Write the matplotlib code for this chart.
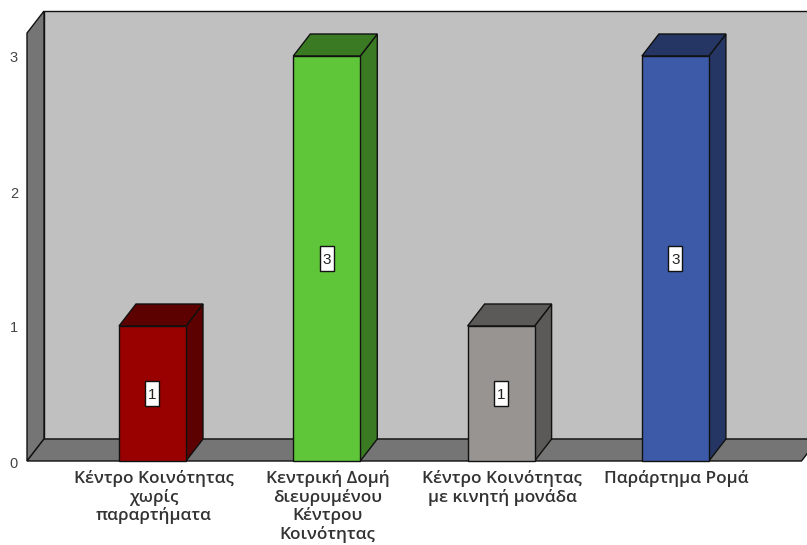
"""
3D style column chart of community centre types
"""
import matplotlib
matplotlib.use("Agg")
import matplotlib.pyplot as plt
from matplotlib.patches import Polygon, Rectangle

# ------------------------------------------------------------------
# Data
# ------------------------------------------------------------------
CATEGORIES = [
    "Κέντρο Κοινότητας\nχωρίς\nπαραρτήματα",
    "Κεντρική Δομή\nδιευρυμένου\nΚέντρου\nΚοινότητας",
    "Κέντρο Κοινότητας\nμε κινητή μονάδα",
    "Παράρτημα Ρομά",
]
VALUES = [1, 3, 1, 3]
Y_TICKS = [0, 1, 2, 3]

FRONT_COLORS = ["#990000", "#5fc639", "#979492", "#3d5aa8"]
TOP_COLORS = ["#5c0000", "#3a7a22", "#5b5a58", "#253665"]

# ------------------------------------------------------------------
# Scale: the axes fill the figure, one unit is 135 px and one category 174.3 px
# ------------------------------------------------------------------
W, H = 807, 545
PX_X = 174.3
PX_Y = 135.0
DX = 17 / PX_X   # depth of the 3D effect
DY = 22 / PX_Y
BAR_W = 67 / PX_X
Y_TOP = 3.17
LEFT = -125.5 / PX_X
RIGHT = 649 / PX_X
EDGE = "#111111"

fig = plt.figure(figsize=(W / 100, H / 100), dpi=100)
ax = fig.add_axes([0, 0, 1, 1])
ax.set_xlim(-152.5 / PX_X, (W - 152.5) / PX_X)
ax.set_ylim(-(H - 461) / PX_Y, 461 / PX_Y)
ax.axis("off")


def poly(points, color, z=1, lw=1.0):
    ax.add_patch(Polygon(points, closed=True, facecolor=color, edgecolor=EDGE,
                         linewidth=lw, joinstyle="miter", zorder=z))


# Walls and floor
poly([(LEFT + DX, DY), (RIGHT + DX * 2, DY), (RIGHT + DX * 2, Y_TOP + DY), (LEFT + DX, Y_TOP + DY)], "#c0c0c0")
poly([(LEFT, 0), (LEFT + DX, DY), (LEFT + DX, Y_TOP + DY), (LEFT, Y_TOP)], "#757575")
poly([(LEFT, 0), (RIGHT, 0), (RIGHT + DX, DY), (LEFT + DX, DY)], "#757575")

# Bars
for i, (value, front, top) in enumerate(zip(VALUES, FRONT_COLORS, TOP_COLORS)):
    x0 = i - BAR_W / 2
    x1 = i + BAR_W / 2
    poly([(x1, 0), (x1 + DX, DY), (x1 + DX, value + DY), (x1, value)], top, 3)
    poly([(x0, value), (x1, value), (x1 + DX, value + DY), (x0 + DX, value + DY)], top, 3)
    poly([(x0, 0), (x1, 0), (x1, value), (x0, value)], front, 4)
    # value label box is taller than wide
    ax.add_patch(Rectangle((i - 7 / PX_X, value / 2 - 12.5 / PX_Y), 14 / PX_X, 25 / PX_Y,
                           facecolor="white", edgecolor="#111111", linewidth=1, zorder=5))
    ax.text(i, value / 2, str(value), ha="center", va="center_baseline", fontsize=11,
            family="Liberation Sans", color="#222222", zorder=6)

# Y tick labels
for tick in Y_TICKS:
    ax.text(LEFT - 13 / PX_X, tick - 1 / PX_Y, str(tick), ha="center", va="center_baseline", fontsize=10.5,
            family="Liberation Sans", color="#444444")

# Category labels
for i, label in enumerate(CATEGORIES):
    ax.text(i + 1 / PX_X, -9 / PX_Y, label, ha="center", va="top", fontsize=12.4,
            family="Open Sans", fontweight="semibold", color="#333333", linespacing=1.12)

fig.savefig("out.png", dpi=100)
